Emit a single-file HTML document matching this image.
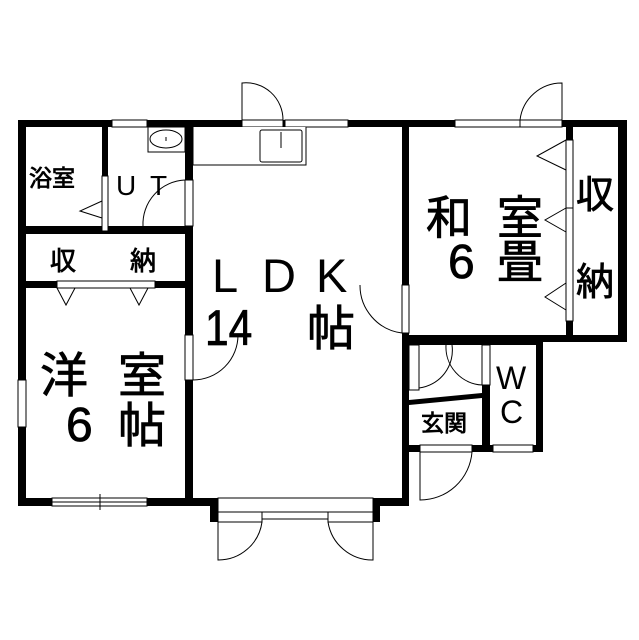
<!DOCTYPE html>
<html><head><meta charset="utf-8"><style>
html,body{margin:0;padding:0;background:#fff}
svg{display:block}
text{font-family:"Liberation Sans","Noto Sans CJK JP",sans-serif;fill:#000}
.b{stroke:#000;stroke-width:0.8}
</style></head><body>
<svg width="639" height="640" viewBox="0 0 639 640" xmlns="http://www.w3.org/2000/svg">
<g fill="#000">
<rect x="18" y="120" width="224" height="7"/>
<rect x="283" y="120" width="237" height="7"/>
<rect x="562" y="120" width="65" height="7"/>
<rect x="18" y="120" width="8" height="386"/>
<rect x="102" y="120" width="6" height="114"/>
<rect x="185" y="120" width="8" height="386"/>
<rect x="18" y="226" width="175" height="8"/>
<rect x="18" y="281" width="175" height="7"/>
<rect x="18" y="498" width="200" height="8"/>
<rect x="210" y="498" width="8" height="24"/>
<rect x="373" y="498" width="35" height="8"/>
<rect x="373" y="498" width="7" height="24"/>
<rect x="402" y="120" width="7" height="386"/>
<rect x="402" y="335" width="225" height="7"/>
<rect x="618" y="120" width="9" height="222"/>
<rect x="566" y="120" width="7" height="222"/>
<rect x="402" y="338" width="141" height="7"/>
<rect x="482" y="338" width="8" height="114"/>
<rect x="536" y="338" width="7" height="114"/>
<rect x="402" y="445" width="141" height="7"/>
<polygon points="409,400 482,393 482,398 409,405"/>
</g>
<g fill="#fff" stroke="#000" stroke-width="1">
<rect x="112" y="120" width="35" height="7"/>
<rect x="242" y="120" width="41" height="7"/>
<rect x="285" y="120" width="63" height="7"/>
<rect x="455" y="120" width="65" height="7"/>
<rect x="520" y="120" width="42" height="7"/>
<rect x="18" y="380" width="8" height="47"/>
<rect x="52" y="498" width="95" height="8"/>
<line x1="52" y1="502" x2="147" y2="502"/>
<line x1="100" y1="494" x2="100" y2="510"/>
<rect x="102" y="176" width="6" height="55"/>
<rect x="185" y="180" width="8" height="46"/>
<rect x="185" y="335" width="8" height="45"/>
<rect x="402" y="285" width="7" height="48"/>
<rect x="566" y="140" width="7" height="68"/>
<rect x="566" y="208" width="7" height="113"/>
<rect x="57" y="281" width="98" height="7"/>
<rect x="409" y="345" width="10" height="45"/>
<rect x="482" y="345" width="8" height="40"/>
<rect x="420" y="445" width="52" height="7"/>
<rect x="493" y="445" width="40" height="7"/>
<rect x="218" y="498" width="155" height="14"/>
<rect x="218" y="512" width="44" height="10"/>
<rect x="262" y="512" width="66" height="7"/>
<rect x="328" y="512" width="45" height="10"/>
<rect x="148" y="127" width="37" height="25"/>
<ellipse cx="166" cy="139" rx="16" ry="9"/>
<polyline points="193,127 193,165 306,165 306,127"/>
<rect x="260" y="130" width="42" height="32" rx="2"/>
</g>
<g fill="none" stroke="#000" stroke-width="1">
<path d="M242,120 V83 A37,37 0 0 1 283,120"/>
<path d="M562,120 V83 A42,42 0 0 0 520,120"/>
<path d="M185,180 A44,44 0 0 0 143,226"/>
<path d="M193,380 A45,45 0 0 0 238,335"/>
<path d="M402,333 A48,48 0 0 1 360,285"/>
<path d="M419,388 A38,38 0 0 0 452,345"/>
<path d="M482,385 A38,38 0 0 1 446,345"/>
<path d="M420,452 V500 A52,52 0 0 0 472,452"/>
<path d="M218,522 V560 A44,44 0 0 0 262,522"/>
<path d="M373,522 V560 A45,45 0 0 1 328,522"/>
<line x1="166" y1="137" x2="166" y2="141"/>
<line x1="281" y1="132" x2="281" y2="148"/>
<polyline points="102,201 80,211 102,218"/>
<polyline points="57,288 66,305 75,288"/>
<polyline points="130,288 139,305 148,288"/>
<polyline points="566,140 537,156 566,170"/>
<polyline points="566,208 545,220 566,232"/>
<polyline points="566,283 545,297 566,310"/>
</g>
<g>
<text class="b" x="29" y="186" font-size="23">浴室</text>
<text x="116" y="195" font-size="28">U</text>
<text x="150" y="195" font-size="28">T</text>
<text class="b" x="50" y="270" font-size="26">収</text>
<text class="b" x="130" y="270" font-size="26">納</text>
<text x="212" y="292" font-size="47">L</text>
<text x="262" y="292" font-size="47">D</text>
<text x="316" y="292" font-size="47">K</text>
<text class="b" x="205" y="345" font-size="50" transform="translate(205 0) scale(0.85 1) translate(-205 0)">14</text>
<text class="b" x="307" y="345" font-size="48">帖</text>
<text class="b" x="40" y="392" font-size="48">洋</text>
<text class="b" x="118" y="392" font-size="48">室</text>
<text class="b" x="66" y="441" font-size="48">6</text>
<text class="b" x="118" y="442" font-size="48">帖</text>
<text class="b" x="426" y="234" font-size="46">和</text>
<text class="b" x="497" y="234" font-size="46">室</text>
<text class="b" x="448" y="278" font-size="48">6</text>
<text class="b" x="497" y="278" font-size="46">畳</text>
<text class="b" x="576" y="208" font-size="38">収</text>
<text class="b" x="576" y="295" font-size="38">納</text>
<text class="b" x="421" y="431" font-size="23">玄関</text>
<text x="496" y="389" font-size="32">W</text>
<text x="500" y="423" font-size="32">C</text>
</g>
</svg>
</body></html>
